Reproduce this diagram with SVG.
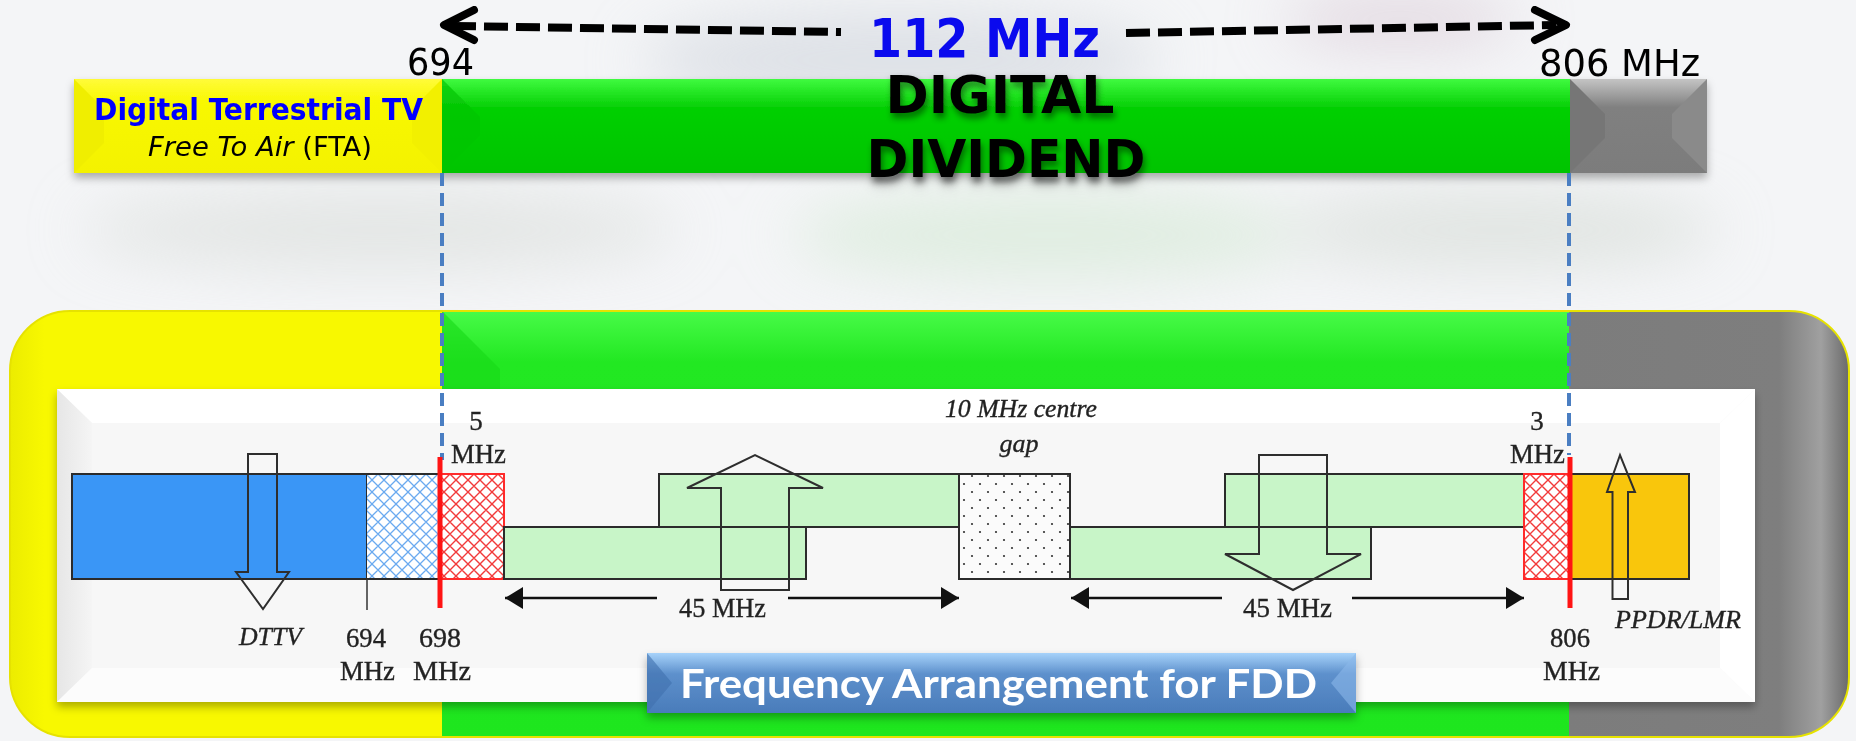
<svg xmlns="http://www.w3.org/2000/svg" width="1856" height="741" viewBox="0 0 1856 741">
<defs>
<style>
.ser{font-family:"Liberation Serif","Times New Roman",serif;fill:#222;font-size:27px;stroke:#222;stroke-width:0.35}
.it{font-style:italic;font-size:26px}
.cond{font-family:"DejaVu Sans Condensed","DejaVu Sans",sans-serif}
.box{stroke:#2b2b2b;stroke-width:2}
.grn{fill:#c8f5c8}
.arw{fill:none;stroke:#2e2e2e;stroke-width:2;stroke-linejoin:miter}
.conn{stroke:#111;stroke-width:2.5;fill:none}
.vdash{stroke:#4a7ec2;stroke-width:4;stroke-dasharray:13 7;fill:none}
.big{stroke:#000;stroke-width:8;fill:none}
</style>
<pattern id="hb" width="12" height="12" patternUnits="userSpaceOnUse">
<rect width="12" height="12" fill="#fff"/>
<path d="M0,0 L12,12 M12,0 L0,12 M-6,6 L6,18 M6,-6 L18,6 M6,-6 L-6,6 M18,6 L6,18" stroke="#6aaaf0" stroke-width="1.3"/>
</pattern>
<pattern id="hr" width="12" height="12" patternUnits="userSpaceOnUse">
<rect width="12" height="12" fill="#fff"/>
<path d="M0,0 L12,12 M12,0 L0,12 M-6,6 L6,18 M6,-6 L18,6 M6,-6 L-6,6 M18,6 L6,18" stroke="#f23a3a" stroke-width="1.4"/>
</pattern>
<pattern id="dots" width="16" height="16" patternUnits="userSpaceOnUse">
<rect width="16" height="16" fill="#fbfbfb"/>
<circle cx="4" cy="4" r="1.1" fill="#333"/>
<circle cx="12" cy="12" r="1.1" fill="#333"/>
</pattern>
<linearGradient id="gTopGreen" x1="0" y1="0" x2="0" y2="1">
<stop offset="0" stop-color="#40fa40"/><stop offset="0.3" stop-color="#06d006"/><stop offset="1" stop-color="#00c400"/>
</linearGradient>
<linearGradient id="gTopYel" x1="0" y1="0" x2="0" y2="1">
<stop offset="0" stop-color="#fffb3a"/><stop offset="0.25" stop-color="#f8f800"/><stop offset="1" stop-color="#f4f200"/>
</linearGradient>
<linearGradient id="gTopGray" x1="0" y1="0" x2="0" y2="1">
<stop offset="0" stop-color="#c4c4c4"/><stop offset="0.3" stop-color="#808080"/><stop offset="1" stop-color="#7c7c7c"/>
</linearGradient>
<linearGradient id="gLowGreen" x1="0" y1="0" x2="0" y2="1">
<stop offset="0" stop-color="#48fb48"/><stop offset="0.12" stop-color="#22e822"/><stop offset="1" stop-color="#1ee61e"/>
</linearGradient>
<linearGradient id="gLowGray" x1="0" y1="0" x2="1" y2="0">
<stop offset="0" stop-color="#7c7c7c"/><stop offset="0.75" stop-color="#7e7e7e"/><stop offset="0.9" stop-color="#a0a0a0"/><stop offset="1" stop-color="#6a6a6a"/>
</linearGradient>
<linearGradient id="gLowYel" x1="0" y1="0" x2="1" y2="0">
<stop offset="0" stop-color="#ecec00"/><stop offset="0.08" stop-color="#f8f800"/><stop offset="1" stop-color="#f8f800"/>
</linearGradient>
<linearGradient id="gLabel" x1="0" y1="0" x2="0" y2="1">
<stop offset="0" stop-color="#a6d2fa"/><stop offset="0.35" stop-color="#5d90cc"/><stop offset="1" stop-color="#4a7cba"/>
</linearGradient>
<linearGradient id="gLeftBevel" x1="0" y1="0" x2="1" y2="0">
<stop offset="0" stop-color="#e6e6e6"/><stop offset="1" stop-color="#f5f5f5"/>
</linearGradient>
<clipPath id="lowClip"><rect x="10" y="311" width="1839" height="426" rx="60" ry="60"/></clipPath>
<filter id="sh" x="-5%" y="-20%" width="110%" height="150%">
<feDropShadow dx="0" dy="5" stdDeviation="4" flood-color="#000" flood-opacity="0.3"/>
</filter>
<filter id="tsh" x="-10%" y="-20%" width="120%" height="160%">
<feDropShadow dx="2" dy="5" stdDeviation="3" flood-color="#000" flood-opacity="0.45"/>
</filter>
<filter id="blur" x="-50%" y="-50%" width="200%" height="200%"><feGaussianBlur stdDeviation="30"/></filter>
<filter id="soft"><feGaussianBlur stdDeviation="0.4"/></filter>
<marker id="tri" viewBox="0 0 18 22" refX="18" refY="11" markerWidth="18" markerHeight="22" markerUnits="userSpaceOnUse" orient="auto">
<path d="M0,0 L18,11 L0,22 z" fill="#111"/>
</marker>
</defs>

<g id="background">
<rect width="1856" height="741" fill="#f4f5f7"/>
<g filter="url(#blur)" opacity="0.6">
<ellipse cx="900" cy="60" rx="260" ry="50" fill="#cfd4dc"/>
<ellipse cx="380" cy="230" rx="300" ry="40" fill="#d8dcd8"/>
<ellipse cx="1050" cy="235" rx="260" ry="45" fill="#d2e8d2"/>
<ellipse cx="1500" cy="230" rx="220" ry="40" fill="#d4dad4"/>
<ellipse cx="1400" cy="20" rx="120" ry="30" fill="#d8c8d4"/>
</g>
</g>

<g id="top-bar" filter="url(#sh)">
<g id="top-dttv">
<rect x="74" y="79" width="368" height="94" fill="url(#gTopYel)"/>
<path d="M74,79 L104,109 L104,143 L74,173 Z" fill="#f0ee00"/>
<path d="M442,79 L412,109 L412,143 L442,173 Z" fill="#f2f000"/>
<text class="cond" x="258.5" y="120" font-size="31" font-weight="bold" fill="#0000ff" text-anchor="middle" textLength="329" lengthAdjust="spacingAndGlyphs">Digital Terrestrial TV</text>
<text class="cond" x="260" y="156" font-size="26" fill="#000" text-anchor="middle" textLength="224" lengthAdjust="spacingAndGlyphs"><tspan font-style="italic">Free To Air </tspan>(FTA)</text>
</g>
<g id="top-dividend">
<rect x="442" y="79" width="1128" height="94" fill="url(#gTopGreen)"/>
<path d="M442,79 L480,117 L480,135 L442,173 Z" fill="#04c404" opacity="0.7"/>
<g filter="url(#tsh)">
<text class="cond" x="1000" y="113" font-size="52" font-weight="bold" fill="#000" text-anchor="middle" textLength="229" lengthAdjust="spacingAndGlyphs">DIGITAL</text>
<text class="cond" x="1006" y="177" font-size="52" font-weight="bold" fill="#000" text-anchor="middle" textLength="279" lengthAdjust="spacingAndGlyphs">DIVIDEND</text>
</g>
</g>
<g id="top-other">
<rect x="1570" y="79" width="137" height="94" fill="url(#gTopGray)"/>
<path d="M1570,79 L1605,114 L1605,138 L1570,173 Z" fill="#767676"/>
<path d="M1707,79 L1672,114 L1672,138 L1707,173 Z" fill="#8a8a8a"/>
</g>
</g>

<g id="top-labels">
<text class="cond" x="407" y="75" font-size="38" fill="#000" textLength="67" lengthAdjust="spacingAndGlyphs">694</text>
<text class="cond" x="1539" y="76" font-size="38" fill="#000" textLength="161" lengthAdjust="spacingAndGlyphs">806 MHz</text>
<text class="cond" x="869" y="57" font-size="53" font-weight="bold" fill="#0a0aee" textLength="231" lengthAdjust="spacingAndGlyphs">112 MHz</text>
</g>

<g id="lower-panel">
<g clip-path="url(#lowClip)">
<rect x="10" y="311" width="432" height="426" fill="url(#gLowYel)"/>
<rect x="442" y="311" width="1127" height="426" fill="url(#gLowGreen)"/>
<path d="M442,311 L500,369 L500,389 L442,389 Z" fill="#18d818" opacity="0.6"/>
<rect x="1569" y="311" width="280" height="426" fill="url(#gLowGray)"/>
</g>
<rect x="10" y="311" width="1839" height="426" rx="60" ry="60" fill="none" stroke="#e6e200" stroke-width="2"/>
</g>

<g id="white-panel" filter="url(#sh)">
<rect x="57" y="389" width="1698" height="313" fill="#f7f7f7"/>
<path d="M57,389 L1755,389 L1720,423 L92,423 Z" fill="#ffffff"/>
<path d="M57,389 L92,423 L92,668 L57,702 Z" fill="url(#gLeftBevel)"/>
<path d="M57,702 L92,668 L1720,668 L1755,702 Z" fill="#fcfcfc"/>
<path d="M1755,389 L1720,423 L1720,668 L1755,702 Z" fill="#ffffff"/>
</g>

<g id="band-dttv">
<rect x="72" y="474" width="295" height="105" fill="#3a96f6" class="box"/>
<rect x="367" y="474" width="73" height="105" fill="url(#hb)"/>
<path d="M367,474 H440 M367,579 H440" stroke="#2b2b2b" stroke-width="2"/>
<line x1="367" y1="579" x2="367" y2="610" stroke="#333" stroke-width="1.5"/>
<polygon class="arw" points="248,454 277,454 277,572 289,572 263,609 236,572 248,572"/>
</g>

<g id="guard-5mhz">
<rect x="440" y="474" width="64" height="105" fill="url(#hr)" stroke="#ff2a2a" stroke-width="2"/>
</g>

<g id="uplink">
<rect x="504" y="527" width="302" height="52" class="box grn"/>
<rect x="659" y="474" width="300" height="53" class="box grn"/>
<polygon class="arw" points="721,590 721,488 687,488 755,455 823,488 789,488 789,590"/>
</g>

<g id="centre-gap">
<rect x="959" y="474" width="111" height="105" fill="url(#dots)" class="box"/>
</g>

<g id="downlink">
<rect x="1070" y="527" width="301" height="52" class="box grn"/>
<rect x="1225" y="474" width="299" height="53" class="box grn"/>
<polygon class="arw" points="1259,455 1327,455 1327,554 1361,554 1293,590 1225,554 1259,554"/>
</g>

<g id="guard-3mhz">
<rect x="1524" y="474" width="46" height="105" fill="url(#hr)" stroke="#ff2a2a" stroke-width="2"/>
</g>

<g id="ppdr">
<rect x="1570" y="474" width="119" height="105" fill="#f9c60c" class="box"/>
<polygon class="arw" points="1612.5,599 1612.5,492 1607,492 1620,455 1635,492 1628,492 1628,599"/>
</g>

<g id="connectors">
<polyline class="big" points="474,10 444,25 474,40" stroke-linecap="round" stroke-linejoin="round"/>
<line class="big" x1="452" y1="26" x2="841" y2="32" stroke-dasharray="24 8"/>
<polyline class="big" points="1535,10 1566,25 1535,40" stroke-linecap="round" stroke-linejoin="round"/>
<line class="big" x1="1126" y1="33" x2="1556" y2="25" stroke-dasharray="24 8"/>
<line class="vdash" x1="442" y1="173" x2="442" y2="460"/>
<line class="vdash" x1="1569" y1="173" x2="1569" y2="455"/>
<line x1="440" y1="457" x2="440" y2="608" stroke="#ff1414" stroke-width="5"/>
<line x1="1570" y1="457" x2="1570" y2="608" stroke="#ff1414" stroke-width="5"/>
<line class="conn" x1="657" y1="598" x2="505" y2="598" marker-end="url(#tri)"/>
<line class="conn" x1="788" y1="598" x2="959" y2="598" marker-end="url(#tri)"/>
<line class="conn" x1="1222" y1="598" x2="1071" y2="598" marker-end="url(#tri)"/>
<line class="conn" x1="1352" y1="598" x2="1524" y2="598" marker-end="url(#tri)"/>
</g>

<g id="diagram-labels" filter="url(#soft)">
<text class="ser it" x="239" y="645" textLength="63" lengthAdjust="spacingAndGlyphs">DTTV</text>
<text class="ser" x="366" y="647" text-anchor="middle" textLength="40" lengthAdjust="spacingAndGlyphs">694</text>
<text class="ser" x="367.5" y="680" text-anchor="middle" textLength="55" lengthAdjust="spacingAndGlyphs">MHz</text>
<text class="ser" x="440" y="647" text-anchor="middle" textLength="42" lengthAdjust="spacingAndGlyphs">698</text>
<text class="ser" x="442" y="680" text-anchor="middle" textLength="58" lengthAdjust="spacingAndGlyphs">MHz</text>
<text class="ser" x="476" y="430" text-anchor="middle">5</text>
<text class="ser" x="478.5" y="463" text-anchor="middle" textLength="55" lengthAdjust="spacingAndGlyphs">MHz</text>
<text class="ser it" x="945" y="417" textLength="152" lengthAdjust="spacingAndGlyphs">10 MHz centre</text>
<text class="ser it" x="1019" y="452" text-anchor="middle">gap</text>
<text class="ser" x="679" y="617" textLength="87" lengthAdjust="spacingAndGlyphs">45 MHz</text>
<text class="ser" x="1243" y="617" textLength="89" lengthAdjust="spacingAndGlyphs">45 MHz</text>
<text class="ser" x="1537" y="430" text-anchor="middle">3</text>
<text class="ser" x="1537.5" y="463" text-anchor="middle" textLength="55" lengthAdjust="spacingAndGlyphs">MHz</text>
<text class="ser" x="1570" y="647" text-anchor="middle" textLength="40" lengthAdjust="spacingAndGlyphs">806</text>
<text class="ser" x="1571.5" y="680" text-anchor="middle" textLength="57" lengthAdjust="spacingAndGlyphs">MHz</text>
<text class="ser it" x="1615" y="628" textLength="126" lengthAdjust="spacingAndGlyphs">PPDR/LMR</text>
</g>

<g id="fdd-label" filter="url(#sh)">
<rect x="647" y="653" width="709" height="60" fill="url(#gLabel)"/>
<path d="M647,653 L672,683 L647,713 Z" fill="#3f6fae" opacity="0.6"/>
<path d="M1356,653 L1331,683 L1356,713 Z" fill="#8ab8ea" opacity="0.6"/>
<text x="680" y="698" font-family="Lato,'Liberation Sans',sans-serif" font-size="41" font-weight="bold" fill="#fff" textLength="637" lengthAdjust="spacingAndGlyphs">Frequency Arrangement for FDD</text>
</g>
</svg>
